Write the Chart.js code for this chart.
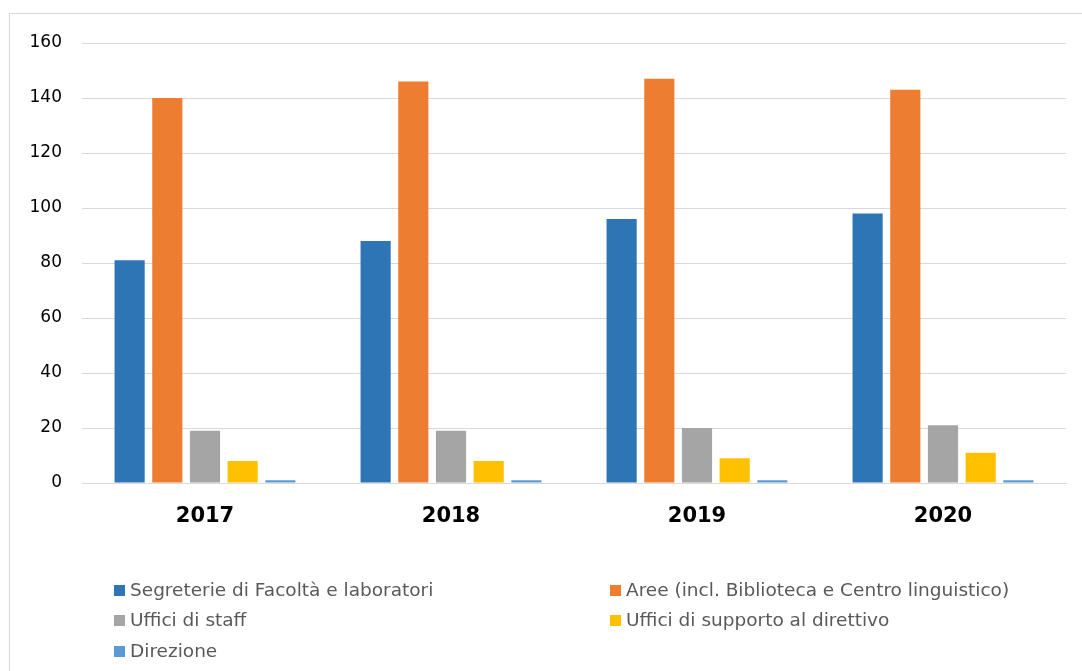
<!DOCTYPE html>
<html>
<head>
<meta charset="utf-8">
<script src="https://cdn.jsdelivr.net/npm/chart.js"></script>
<style>
  body { margin: 0; background: #fff; font-family: "DejaVu Sans", sans-serif; }
  #cornice { position: absolute; left: 9px; top: 13px; width: 1080px; height: 680px; border: 1px solid #d9d9d9; }
  #grafico { position: absolute; left: 0; top: 0; }
  #legenda { position: absolute; left: 0; top: 0; width: 1082px; font-size: 18.5px; color: #595959; }
  .voce { position: absolute; white-space: nowrap; line-height: 20px; }
  .quad { display: inline-block; width: 11px; height: 11px; margin-right: 5px; vertical-align: 0px; }
</style>
</head>
<body>
<div id="cornice"></div>
<canvas id="grafico" width="1082" height="671"></canvas>
<div id="legenda"></div>
<script>
let anni = ["2017", "2018", "2019", "2020"];
let serie = [
  "Segreterie di Facoltà e laboratori",
  "Aree (incl. Biblioteca e Centro linguistico)",
  "Uffici di staff",
  "Uffici di supporto al direttivo",
  "Direzione"
];
let segreterie = [81, 88, 96, 98];
let aree = [140, 146, 147, 143];
let ufficiStaff = [19, 19, 20, 21];
let ufficiSupporto = [8, 8, 9, 11];
let direzione = [1, 1, 1, 1];
let colori = ["#2E75B6", "#ED7D31", "#A5A5A5", "#FFC000", "#5B9BD5"];

let valori = [segreterie, aree, ufficiStaff, ufficiSupporto, direzione];
let ctx = document.getElementById("grafico").getContext("2d");

let myChart = new Chart(ctx, {
  type: "bar",
  data: {
    labels: anni,
    datasets: serie.map((nome, i) => ({
      label: nome,
      data: valori[i],
      backgroundColor: colori[i],
      categoryPercentage: 0.766,
      barPercentage: 0.8
    }))
  },
  options: {
    responsive: false,
    animation: false,
    layout: { padding: { left: 10, right: 16, top: 43, bottom: 138 } },
    plugins: { legend: { display: false }, tooltip: { enabled: false } },
    scales: {
      x: {
        grid: { display: false },
        border: { color: "#d9d9d9", width: 1 },
        ticks: { color: "#000", font: { family: "DejaVu Sans", size: 21, weight: "bold" }, padding: 13 },
        afterFit: (s) => { s.height = 50; }
      },
      y: {
        min: 0,
        max: 160,
        ticks: { stepSize: 20, color: "#000", font: { family: "DejaVu Sans", size: 17 }, padding: 20 },
        grid: { color: "#d9d9d9", drawTicks: false },
        border: { display: false },
        afterFit: (s) => { s.width = 72; }
      }
    }
  }
});

// legenda in due colonne come nell'originale
let posizioni = [[114, 580], [610, 580], [114, 610], [610, 610], [114, 641]];
let legenda = document.getElementById("legenda");
serie.forEach((nome, i) => {
  let voce = document.createElement("div");
  voce.className = "voce";
  voce.style.left = posizioni[i][0] + "px";
  voce.style.top = posizioni[i][1] + "px";
  voce.innerHTML = '<span class="quad" style="background:' + colori[i] + '"></span>' + nome;
  legenda.appendChild(voce);
});
</script>
</body>
</html>
